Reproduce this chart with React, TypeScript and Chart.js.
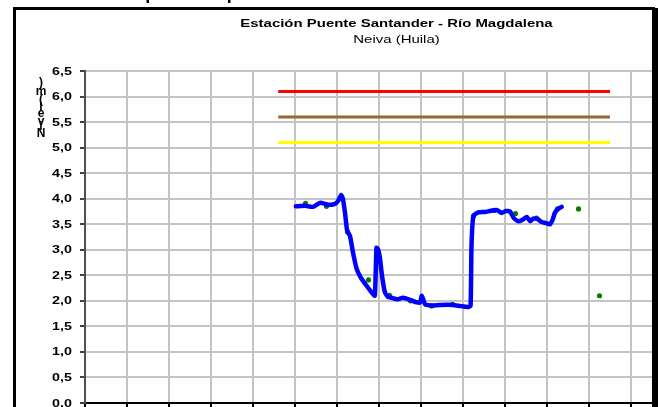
import React, { useEffect, useRef } from "react";
import { Chart, registerables } from "chart.js";
Chart.register(...registerables);

const TITLE = "Estación Puente Santander - Río Magdalena";
const SUBTITLE = "Neiva (Huila)";
const Y_TITLE = "Nivel (m)";

// x in grid units (one vertical gridline per unit)
const levelX = [5.02, 5.24, 5.43, 5.6, 5.79, 5.95, 6.02, 6.1, 6.14, 6.19, 6.24, 6.31, 6.38, 6.47, 6.57, 6.71, 6.81, 6.9, 6.94, 6.98, 7.02, 7.07, 7.14, 7.21, 7.3, 7.43, 7.57, 7.74, 7.9, 7.98, 8.02, 8.1, 8.26, 8.45, 8.76, 8.93, 9.12, 9.18, 9.2, 9.23, 9.26, 9.36, 9.52, 9.64, 9.8, 9.92, 10.02, 10.12, 10.21, 10.31, 10.4, 10.52, 10.6, 10.67, 10.78, 10.86, 10.98, 11.07, 11.14, 11.19, 11.26, 11.35];
const levelY = [3.85, 3.86, 3.84, 3.92, 3.88, 3.9, 3.95, 4.07, 4.0, 3.73, 3.38, 3.27, 2.95, 2.62, 2.45, 2.29, 2.18, 2.1, 3.04, 3.0, 2.85, 2.5, 2.17, 2.08, 2.06, 2.03, 2.06, 2.02, 1.97, 1.97, 2.1, 1.93, 1.91, 1.92, 1.92, 1.9, 1.88, 1.9, 3.0, 3.55, 3.68, 3.73, 3.74, 3.76, 3.78, 3.72, 3.76, 3.75, 3.62, 3.56, 3.58, 3.64, 3.56, 3.61, 3.6, 3.55, 3.52, 3.5, 3.6, 3.73, 3.8, 3.84];

const obsX = [5.25, 5.75, 6.25, 6.75, 7.25, 7.75, 8.25, 8.75, 9.25, 9.75, 10.25, 10.75, 11.25, 11.75, 12.25];
const obsY = [3.91, 3.85, 3.35, 2.41, 2.11, 2.0, 1.9, 1.93, 3.66, 3.77, 3.71, 3.62, 3.8, 3.8, 2.1];

const thresholdNames = ["Alerta roja", "Alerta naranja", "Alerta amarilla"];
const thresholdValues = [6.1, 5.6, 5.1];
const thresholdColors = ["#ff0000", "#9c6632", "#ffff00"];
const thresholdStart = 4.6;
const thresholdEnd = 12.5;

const Y_MIN = 0;
const Y_MAX = 6.5;
const Y_STEP = 0.5;
const X_MIN = 0;
const X_MAX = 13.5;

const FONT = "'Liberation Sans', Arial, sans-serif";
const STRETCH = 1.3;

const decorPlugin = {
  id: "decor",
  beforeDraw(chart: any) {
    const ctx = chart.ctx;
    ctx.save();
    ctx.fillStyle = "#ffffff";
    ctx.fillRect(0, 0, chart.width, chart.height);
    ctx.restore();
  },
  afterDraw(chart: any) {
    const ctx = chart.ctx;
    const yScale = chart.scales.y;
    ctx.save();
    ctx.fillStyle = "#000000";
    // titles
    const cx = 396.5;
    ctx.textAlign = "center";
    ctx.textBaseline = "alphabetic";
    ctx.save();
    ctx.translate(cx, 27);
    ctx.scale(STRETCH, 1);
    ctx.font = `bold 11.5px ${FONT}`;
    ctx.fillText(TITLE, 0, 0);
    ctx.restore();
    ctx.save();
    ctx.translate(cx, 42.5);
    ctx.scale(STRETCH, 1);
    ctx.font = `11.5px ${FONT}`;
    ctx.fillText(SUBTITLE, 0, 0);
    ctx.restore();

    // y tick labels
    ctx.font = `bold 11px ${FONT}`;
    ctx.textAlign = "right";
    ctx.textBaseline = "middle";
    for (const t of yScale.ticks) {
      const y = yScale.getPixelForValue(t.value);
      ctx.save();
      ctx.translate(72, y + 0.5);
      ctx.scale(STRETCH, 1);
      ctx.fillText(t.value.toFixed(1).replace(".", ","), 0, 0);
      ctx.restore();
    }

    // stacked y-axis title (reads bottom to top)
    ctx.font = `bold 12px ${FONT}`;
    ctx.textAlign = "center";
    let pos = 139;
    for (const ch of Y_TITLE) {
      const w = ctx.measureText(ch).width * 1.15;
      const cy = pos - w / 2;
      if (ch !== " ") ctx.fillText(ch, 41, cy);
      pos -= w;
    }

    // frame
    ctx.fillRect(13, 7, 642, 3);
    ctx.fillRect(13, 7, 3, chart.height);
    ctx.fillRect(652, 8, 6, chart.height);
    // descenders of cut-off text above
    ctx.fillRect(146.5, 0, 2.5, 3);
    ctx.fillRect(228, 0, 2.5, 3);
    ctx.restore();
  },
};

export default function App() {
  const ref = useRef<HTMLCanvasElement | null>(null);
  useEffect(() => {
    if (!ref.current) return;
    const datasets: any[] = [];
    datasets.push({
      label: "Nivel",
      data: levelX.map((x, i) => ({ x, y: levelY[i] })),
      borderColor: "#0000ff",
      backgroundColor: "#0000ff",
      borderWidth: 4.5,
      pointRadius: 0,
      tension: 0.15,
      borderCapStyle: "round",
      borderJoinStyle: "round",
      order: 0,
    });
    datasets.push({
      label: "Observado",
      data: obsX.map((x, i) => ({ x, y: obsY[i] })),
      showLine: false,
      pointRadius: 2.6,
      pointBorderWidth: 0,
      pointBackgroundColor: "#008000",
      borderColor: "#008000",
      order: 1,
    });
    thresholdValues.forEach((v, i) => {
      datasets.push({
        label: thresholdNames[i],
        data: [
          { x: thresholdStart, y: v },
          { x: thresholdEnd, y: v },
        ],
        borderColor: thresholdColors[i],
        borderWidth: 3,
        pointRadius: 0,
        order: 2 + i,
      });
    });
    const chart = new Chart(ref.current, {
      type: "line",
      data: { datasets },
      plugins: [decorPlugin],
      options: {
        animation: false,
        responsive: false,
        devicePixelRatio: 1,
        layout: { padding: { top: 71, left: 0, right: 6, bottom: 0 } },
        plugins: { legend: { display: false }, tooltip: { enabled: false }, title: { display: false } },
        scales: {
          x: {
            type: "linear",
            min: X_MIN,
            max: X_MAX,
            ticks: { display: false, stepSize: 1, includeBounds: false },
            grid: { color: "#c4c4c4", lineWidth: 2, tickLength: 4, tickColor: "#000000", drawTicks: true },
            border: { color: "#000000", width: 2 },
            afterFit: (s: any) => {
              s.height = 4;
            },
          },
          y: {
            type: "linear",
            min: Y_MIN,
            max: Y_MAX,
            ticks: { display: false, stepSize: Y_STEP },
            grid: { color: "#c4c4c4", lineWidth: 2, tickLength: 5, tickColor: "#404040", drawTicks: true },
            border: { color: "#505050", width: 2 },
            afterFit: (s: any) => {
              s.width = 85;
            },
          },
        },
      },
    } as any);
    return () => chart.destroy();
  }, []);
  return (
    <div style={{ position: "fixed", left: 0, top: 0, width: 658, height: 407, background: "#fff" }}>
      <canvas ref={ref} width={658} height={407} style={{ display: "block", width: 658, height: 407 }} />
    </div>
  );
}
